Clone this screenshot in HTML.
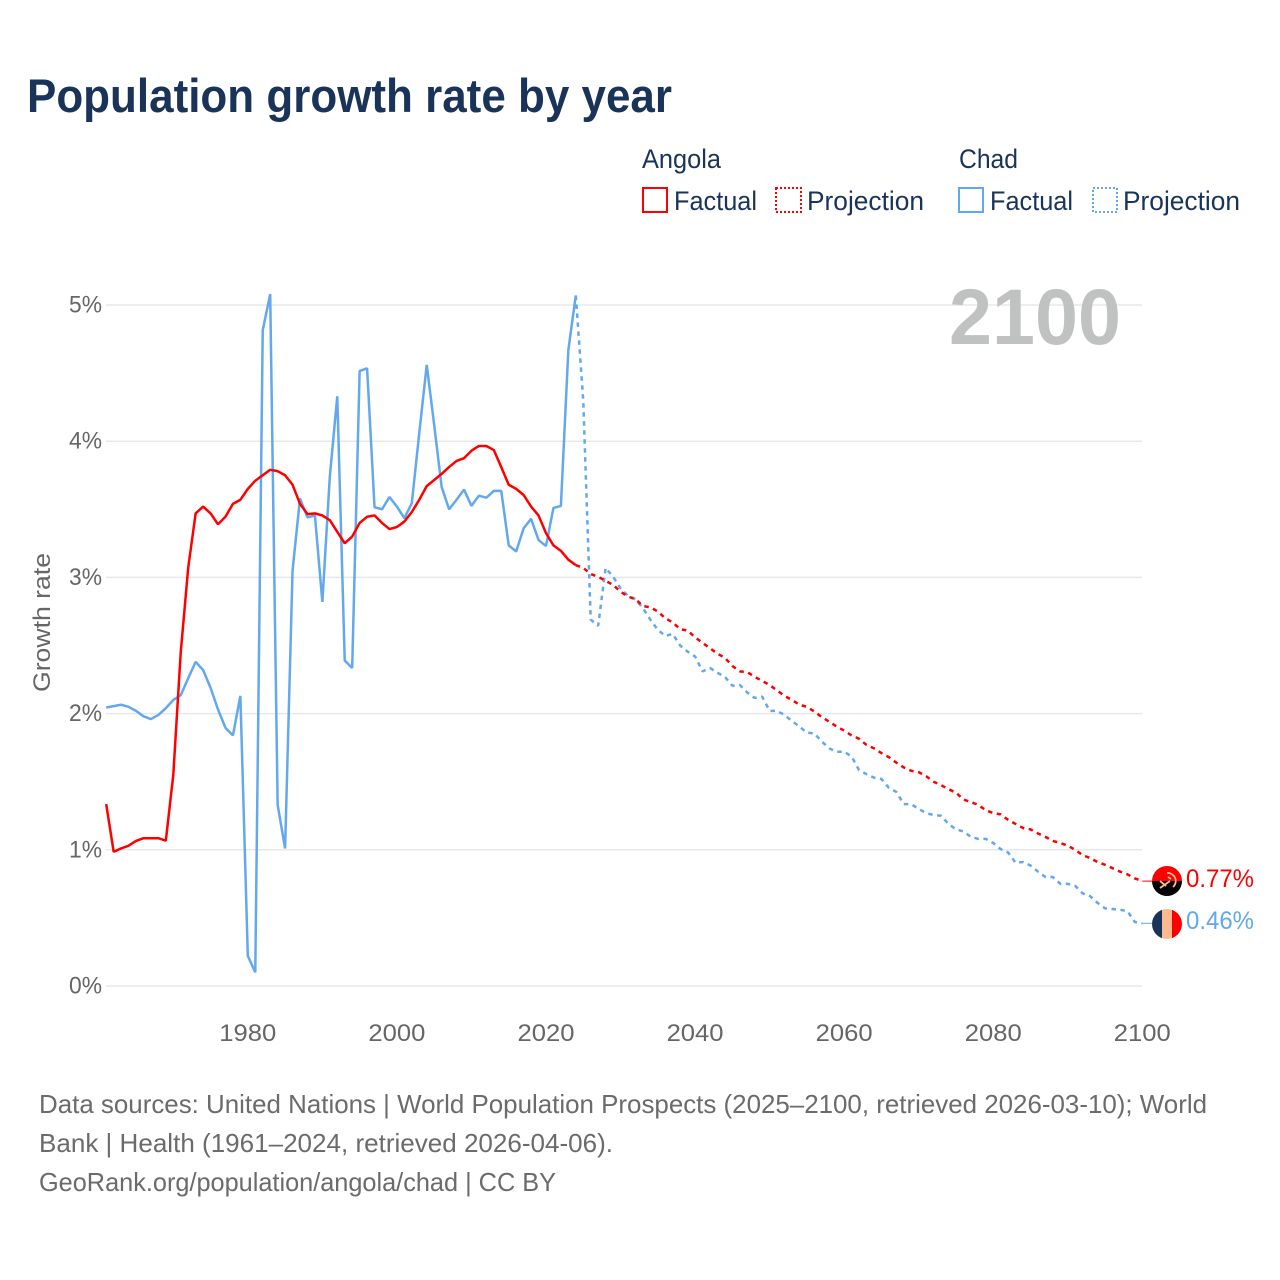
<!DOCTYPE html>
<html lang="en">
<head>
<meta charset="utf-8">
<title>Population growth rate by year</title>
<style>
html,body{margin:0;padding:0;background:#fff;}
svg{display:block;font-family:"Liberation Sans",sans-serif;}
</style>
</head>
<body>
<svg id="chart" xmlns="http://www.w3.org/2000/svg" width="1280" height="1280" viewBox="0 0 1280 1280">
  <rect x="0" y="0" width="1280" height="1280" fill="#ffffff"/>
  <text x="27" y="112" font-size="47" font-weight="700" fill="#1a3358" textLength="645" lengthAdjust="spacingAndGlyphs">Population growth rate by year</text>

  <g font-size="27" fill="#1a3358">
    <text x="642" y="168" textLength="79" lengthAdjust="spacingAndGlyphs">Angola</text>
    <text x="959" y="168" textLength="59" lengthAdjust="spacingAndGlyphs">Chad</text>
    <g>
      <rect x="643" y="188" width="24" height="24" fill="none" stroke="#ff0000" stroke-width="2"/>
      <text x="674" y="210" textLength="83" lengthAdjust="spacingAndGlyphs">Factual</text>
    </g>
    <g>
      <rect x="776" y="188" width="25" height="24" fill="none" stroke="#ff0000" stroke-width="2" stroke-dasharray="2 2"/>
      <text x="807" y="210" textLength="117" lengthAdjust="spacingAndGlyphs">Projection</text>
    </g>
    <g>
      <rect x="959" y="188" width="24" height="24" fill="none" stroke="#62a8ef" stroke-width="2"/>
      <text x="990" y="210" textLength="83" lengthAdjust="spacingAndGlyphs">Factual</text>
    </g>
    <g>
      <rect x="1093" y="188" width="24" height="24" fill="none" stroke="#62a8ef" stroke-width="2" stroke-dasharray="2 2"/>
      <text x="1123" y="210" textLength="117" lengthAdjust="spacingAndGlyphs">Projection</text>
    </g>
  </g>

  <g id="grid"></g>
  <g id="yticks"></g>
  <g id="xticks"></g>
  <text transform="translate(50,622.5) rotate(-90)" text-anchor="middle" font-size="24.5" fill="#666666" textLength="139" lengthAdjust="spacingAndGlyphs">Growth rate</text>

  <text x="949" y="344" font-size="79" font-weight="700" fill="#c0c2c2" textLength="172" lengthAdjust="spacingAndGlyphs">2100</text>

  <g id="series"></g>

  <g>
    <clipPath id="clipA"><circle cx="1167" cy="881" r="15"/></clipPath>
    <g clip-path="url(#clipA)">
      <rect x="1152" y="866" width="30" height="15" fill="#ff0000"/>
      <rect x="1152" y="881" width="30" height="15" fill="#000000"/>
      <path d="M1167 873 A8 8 0 0 1 1173 887" fill="none" stroke="#ffb98f" stroke-width="1.8"/>
      <path d="M1160 888 L1170 881 M1160 881 L1166 886 M1168 877 L1171 879" fill="none" stroke="#ffb98f" stroke-width="1.8"/>
    </g>
  </g>
  <g>
    <clipPath id="clipC"><circle cx="1167" cy="924" r="15"/></clipPath>
    <g clip-path="url(#clipC)">
      <rect x="1152" y="909" width="10" height="30" fill="#1a3358"/>
      <rect x="1162" y="909" width="10" height="30" fill="#ffb98f"/>
      <rect x="1172" y="909" width="10" height="30" fill="#ff0000"/>
    </g>
  </g>
  <text id="valA" x="1186" y="887" font-size="25" fill="#ff0000" textLength="68" lengthAdjust="spacingAndGlyphs"></text>
  <text id="valC" x="1186" y="929" font-size="25" fill="#62a8ef" textLength="68" lengthAdjust="spacingAndGlyphs"></text>

  <g font-size="26" fill="#6b6b6b">
    <text x="39" y="1113" textLength="1168" lengthAdjust="spacingAndGlyphs">Data sources: United Nations | World Population Prospects (2025–2100, retrieved 2026-03-10); World</text>
    <text x="39" y="1152" textLength="574" lengthAdjust="spacingAndGlyphs">Bank | Health (1961–2024, retrieved 2026-04-06).</text>
    <text x="39" y="1191" textLength="517" lengthAdjust="spacingAndGlyphs">GeoRank.org/population/angola/chad | CC BY</text>
  </g>
</svg>

<script>
const yTickValues = [0, 1, 2, 3, 4, 5];
const yTickLabels = ["0%", "1%", "2%", "3%", "4%", "5%"];
const xTickYears = [1980, 2000, 2020, 2040, 2060, 2080, 2100];
const xTickLabels = ["1980", "2000", "2020", "2040", "2060", "2080", "2100"];

const factualYears = [1961,1962,1963,1964,1965,1966,1967,1968,1969,1970,1971,1972,1973,1974,1975,1976,1977,1978,1979,1980,1981,1982,1983,1984,1985,1986,1987,1988,1989,1990,1991,1992,1993,1994,1995,1996,1997,1998,1999,2000,2001,2002,2003,2004,2005,2006,2007,2008,2009,2010,2011,2012,2013,2014,2015,2016,2017,2018,2019,2020,2021,2022,2023,2024];

const projectionYears = [2024,2025,2026,2027,2028,2029,2030,2031,2032,2033,2034,2035,2036,2037,2038,2039,2040,2041,2042,2043,2044,2045,2046,2047,2048,2049,2050,2051,2052,2053,2054,2055,2056,2057,2058,2059,2060,2061,2062,2063,2064,2065,2066,2067,2068,2069,2070,2071,2072,2073,2074,2075,2076,2077,2078,2079,2080,2081,2082,2083,2084,2085,2086,2087,2088,2089,2090,2091,2092,2093,2094,2095,2096,2097,2098,2099,2100];

const angolaFactual = [1.336,0.986,1.01,1.03,1.065,1.085,1.085,1.085,1.067,1.55,2.45,3.07,3.47,3.52,3.47,3.39,3.445,3.54,3.57,3.65,3.71,3.75,3.79,3.78,3.75,3.68,3.54,3.465,3.47,3.455,3.42,3.335,3.25,3.30,3.40,3.445,3.455,3.40,3.355,3.37,3.41,3.48,3.57,3.67,3.715,3.76,3.81,3.855,3.875,3.93,3.965,3.965,3.935,3.81,3.68,3.65,3.605,3.52,3.455,3.325,3.235,3.195,3.13,3.09];

const chadFactual = [2.045,2.055,2.065,2.05,2.02,1.98,1.96,1.99,2.04,2.10,2.135,2.26,2.38,2.32,2.19,2.03,1.895,1.84,2.13,0.22,0.10,4.815,5.08,1.33,1.01,3.05,3.58,3.44,3.455,2.82,3.74,4.33,2.39,2.335,4.515,4.535,3.515,3.50,3.59,3.52,3.435,3.545,4.06,4.56,4.12,3.665,3.50,3.57,3.645,3.525,3.60,3.585,3.635,3.635,3.235,3.19,3.36,3.43,3.275,3.23,3.51,3.525,4.67,5.07];

const angolaProjection = [3.09,3.07,3.025,3.005,2.975,2.945,2.895,2.86,2.84,2.79,2.78,2.75,2.70,2.67,2.62,2.61,2.56,2.52,2.48,2.44,2.41,2.35,2.31,2.305,2.27,2.24,2.21,2.17,2.13,2.10,2.065,2.05,2.015,1.975,1.94,1.905,1.875,1.84,1.815,1.77,1.745,1.71,1.68,1.64,1.605,1.58,1.57,1.54,1.50,1.475,1.445,1.42,1.37,1.35,1.33,1.29,1.27,1.26,1.22,1.19,1.16,1.15,1.12,1.095,1.065,1.05,1.03,1.0,0.96,0.94,0.91,0.89,0.865,0.84,0.82,0.79,0.77];

const chadProjection = [5.07,4.30,2.69,2.645,3.07,3.005,2.92,2.865,2.84,2.775,2.69,2.615,2.57,2.585,2.50,2.455,2.42,2.31,2.335,2.30,2.27,2.205,2.21,2.155,2.115,2.125,2.02,2.02,1.99,1.945,1.905,1.86,1.855,1.795,1.745,1.72,1.72,1.685,1.585,1.555,1.53,1.52,1.455,1.425,1.335,1.335,1.30,1.27,1.255,1.25,1.19,1.15,1.135,1.095,1.08,1.08,1.05,1.005,0.98,0.905,0.91,0.885,0.84,0.80,0.80,0.75,0.75,0.735,0.68,0.66,0.61,0.57,0.565,0.56,0.55,0.47,0.46];

const SVGNS = "http://www.w3.org/2000/svg";
const RED = "#ff0000";
const BLUE = "#62a8ef";
const GRID_RIGHT = 1142;
const LINE_WIDTH = 2.5;
const DASH = "4.5 4.5";

function xScale(year) { return 106.2 + (year - 1961) * (1142.3 - 106.2) / (2100 - 1961); }
function yScale(v) { return 986 - v * 136.2; }

function make(tag, attrs, parent) {
  const el = document.createElementNS(SVGNS, tag);
  for (const k in attrs) el.setAttribute(k, attrs[k]);
  parent.appendChild(el);
  return el;
}

const gridG = document.getElementById("grid");
const yG = document.getElementById("yticks");
const xG = document.getElementById("xticks");
const seriesG = document.getElementById("series");

yTickValues.forEach(function (v, i) {
  const line = make("line", {x1: 106, x2: GRID_RIGHT, y1: yScale(v), y2: yScale(v), stroke: "#e8e8e8", "stroke-width": 1.5}, gridG);
  
  
  const t = make("text", {x: 102, y: yScale(v) + 7.5, "text-anchor": "end", "font-size": 24.5, fill: "#666666", textLength: 33, lengthAdjust: "spacingAndGlyphs"}, yG);
  t.textContent = yTickLabels[i];
  
  
});

xTickYears.forEach(function (yr, i) {
  const t = make("text", {x: xScale(yr), y: 1041, "text-anchor": "middle", "font-size": 24.5, fill: "#666666", textLength: 57, lengthAdjust: "spacingAndGlyphs"}, xG);
  t.textContent = xTickLabels[i];
  
  
});

function pointsFor(years, values) {
  return years.map(function (yr, i) { return xScale(yr).toFixed(2) + "," + yScale(values[i]).toFixed(2); }).join(" ");
}

const chadFactualLine = make("polyline", {points: pointsFor(factualYears, chadFactual), fill: "none", stroke: BLUE, "stroke-width": LINE_WIDTH, "stroke-linejoin": "bevel"}, seriesG);



const chadProjectionLine = make("polyline", {points: pointsFor(projectionYears, chadProjection), fill: "none", stroke: BLUE, "stroke-width": LINE_WIDTH, "stroke-dasharray": DASH, "stroke-linejoin": "bevel"}, seriesG);



const angolaFactualLine = make("polyline", {points: pointsFor(factualYears, angolaFactual), fill: "none", stroke: RED, "stroke-width": LINE_WIDTH, "stroke-linejoin": "bevel"}, seriesG);



const angolaProjectionLine = make("polyline", {points: pointsFor(projectionYears, angolaProjection), fill: "none", stroke: RED, "stroke-width": LINE_WIDTH, "stroke-dasharray": DASH, "stroke-linejoin": "bevel"}, seriesG);



const lastA = angolaProjection[angolaProjection.length - 1];
const lastC = chadProjection[chadProjection.length - 1];

const connA = make("line", {x1: xScale(2100), x2: 1152, y1: yScale(lastA), y2: yScale(lastA), stroke: RED, "stroke-width": 1}, seriesG);



const connC = make("line", {x1: xScale(2100), x2: 1152, y1: yScale(lastC), y2: yScale(lastC), stroke: BLUE, "stroke-width": 1}, seriesG);



document.getElementById("valA").textContent = lastA.toFixed(2) + "%";
document.getElementById("valC").textContent = lastC.toFixed(2) + "%";
</script>
</body>
</html>
